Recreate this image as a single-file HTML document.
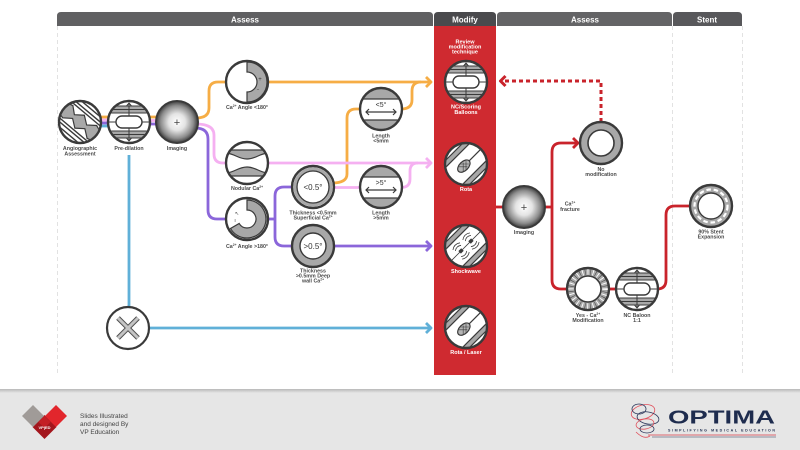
<!DOCTYPE html>
<html><head><meta charset="utf-8"><style>
html,body{margin:0;padding:0;width:800px;height:450px;overflow:hidden;background:#fff}
svg{display:block}
text{font-family:"Liberation Sans",sans-serif}
.l{font-size:5.3px;font-weight:bold;fill:#4a4a4a;text-anchor:middle}
.w{font-size:5.5px;font-weight:bold;fill:#fff;text-anchor:middle}
.h{font-size:8px;font-weight:bold;fill:#fff;text-anchor:middle}
</style></head><body>
<svg width="800" height="450" viewBox="0 0 800 450" xmlns="http://www.w3.org/2000/svg">
<defs>
<radialGradient id="sph" cx="0.5" cy="0.5" r="0.5">
<stop offset="0" stop-color="#ffffff"/><stop offset="0.4" stop-color="#e4e4e4"/><stop offset="0.78" stop-color="#8c8c8c"/><stop offset="1" stop-color="#3c3c3c"/>
</radialGradient>
<linearGradient id="fsh" x1="0" y1="0" x2="0" y2="1"><stop offset="0" stop-color="#b8b8b8"/><stop offset="1" stop-color="#e6e6e6"/></linearGradient>
<clipPath id="c0"><circle cx="0" cy="0" r="20"/></clipPath>
</defs>

<!-- separators -->
<g stroke="#e2e2e2" stroke-width="1" stroke-dasharray="4 3" fill="none">
<line x1="57.5" y1="26" x2="57.5" y2="376"/>
<line x1="672.5" y1="26" x2="672.5" y2="376"/>
<line x1="742.5" y1="26" x2="742.5" y2="376"/>
</g>

<!-- headers -->
<path d="M57 26 V16 Q57 12 61 12 H429 Q433 12 433 16 V26 Z" fill="#606062"/>
<path d="M434 26 V16 Q434 12 438 12 H492 Q496 12 496 16 V26 Z" fill="#4a4a4d"/>
<path d="M497 26 V16 Q497 12 501 12 H668 Q672 12 672 16 V26 Z" fill="#646466"/>
<path d="M673 26 V16 Q673 12 677 12 H738 Q742 12 742 16 V26 Z" fill="#58585b"/>
<text class="h" x="245" y="22.5">Assess</text>
<text class="h" x="465" y="22.5">Modify</text>
<text class="h" x="585" y="22.5">Assess</text>
<text class="h" x="707" y="22.5">Stent</text>

<!-- red column -->
<rect x="434" y="26" width="62" height="349" fill="#cf2a30"/>
<text class="w" x="465" y="43.5">Review</text>
<text class="w" x="465" y="48.5">modification</text>
<text class="w" x="465" y="53.5">technique</text>

<!-- connectors -->
<g fill="none" stroke-width="2.8" stroke-linecap="butt" stroke-linejoin="round">
<!-- stacked lines left -->
<line x1="100" y1="117" x2="109" y2="117" stroke="#f6ad45"/>
<line x1="100" y1="120" x2="109" y2="120" stroke="#f5b0f1"/>
<line x1="100" y1="123" x2="109" y2="123" stroke="#8b66da"/>
<line x1="100" y1="126" x2="109" y2="126" stroke="#60b0d8"/>
<line x1="149" y1="117" x2="157" y2="117" stroke="#f6ad45"/>
<line x1="149" y1="120.5" x2="157" y2="120.5" stroke="#f5b0f1"/>
<line x1="149" y1="124" x2="157" y2="124" stroke="#8b66da"/>
<!-- orange -->
<path d="M196 118 Q209 118 209 108 L209 91 Q209 82 218 82 L227 82" stroke="#f6ad45"/>
<path d="M267 82 L431 82" stroke="#f6ad45"/>
<path d="M426 77 L431 82 L426 87" stroke="#f6ad45"/>
<path d="M332 183 Q347 183 347 174 L347 118 Q347 109 356 109 L361 109" stroke="#f6ad45"/>
<path d="M401 109 Q412 109 412 100 L412 91 Q412 82 421 82" stroke="#f6ad45"/>
<!-- pink -->
<path d="M196 124 Q214 124 214 135 L214 154 Q214 163 223 163 L227 163" stroke="#f5b0f1"/>
<path d="M267 163 L431 163" stroke="#f5b0f1"/>
<path d="M426 158 L431 163 L426 168" stroke="#f5b0f1"/>
<path d="M333 187.5 L361 187.5" stroke="#f5b0f1"/>
<path d="M401 187.5 Q410 187.5 410 179 L410 171 Q410 163 418 163" stroke="#f5b0f1"/>
<!-- purple -->
<path d="M195 128 Q208 128 208 139 L208 210 Q208 219 217 219 L227 219" stroke="#8b66da"/>
<path d="M267 219 L275 219" stroke="#8b66da"/>
<path d="M293 187 L284 187 Q275 187 275 196 L275 237 Q275 246 284 246 L293 246" stroke="#8b66da"/>
<path d="M333 246 L431 246" stroke="#8b66da"/>
<path d="M426 241 L431 246 L426 251" stroke="#8b66da"/>
<!-- blue -->
<path d="M129 155 L129 308" stroke="#60b0d8"/>
<path d="M148 328 L431 328" stroke="#60b0d8"/>
<path d="M426 323 L431 328 L426 333" stroke="#60b0d8"/>
<!-- red -->
<path d="M496 207 L504 207" stroke="#c9232b"/>
<path d="M544 207 L552 207" stroke="#c9232b"/>
<path d="M578 143 L561 143 Q552 143 552 152 L552 280 Q552 289 561 289 L568 289" stroke="#c9232b"/>
<path d="M573 138 L578 143 L573 148" stroke="#c9232b"/>
<path d="M608 289 L617 289" stroke="#c9232b"/>
<path d="M657 289 Q666 289 666 280 L666 215 Q666 206 675 206 L691 206" stroke="#c9232b"/>
<path d="M601 122 L601 81 L503 81" stroke="#c9232b" stroke-width="3" stroke-dasharray="4 3" stroke-linejoin="miter"/>
<path d="M505.5 76 L500.5 81 L505.5 86" stroke="#c9232b" stroke-width="3"/>
</g>

<!-- Angiographic -->
<g transform="translate(80,122)">
<circle r="21" fill="#fff"/>
<g clip-path="url(#c0)"><g transform="rotate(40)">
<rect x="-26" y="-8" width="52" height="16" fill="#fff"/>
<polygon points="-26,-5 -16,-8 -9,-2 -1,-8 7,-2 15,-8 26,-4 26,5 16,8 8,2 0,8 -8,2 -16,8 -26,5" fill="#a8a8a8" stroke="#3a3a3a" stroke-width="1.2"/>
<g stroke="#3a3a3a" stroke-width="1.4"><line x1="-26" y1="-17" x2="26" y2="-17"/><line x1="-26" y1="-13" x2="26" y2="-13"/><line x1="-26" y1="-10" x2="26" y2="-10"/><line x1="-26" y1="10" x2="26" y2="10"/><line x1="-26" y1="13" x2="26" y2="13"/><line x1="-26" y1="17" x2="26" y2="17"/></g>
</g></g>
<circle r="21" fill="none" stroke="#3a3a3a" stroke-width="2.4"/>
</g>
<text class="l" x="80" y="150">Angiographic</text>
<text class="l" x="80" y="155.5">Assessment</text>

<!-- Pre-dilation -->
<g transform="translate(129,122)">
<circle r="21" fill="#fff"/>
<g clip-path="url(#c0)">
<rect x="-22" y="-16" width="44" height="7" fill="#a8a8a8"/><rect x="-22" y="9" width="44" height="7" fill="#a8a8a8"/>
<g stroke="#3a3a3a" stroke-width="1"><line x1="-22" y1="-16" x2="22" y2="-16"/><line x1="-22" y1="-12.5" x2="22" y2="-12.5"/><line x1="-22" y1="-9" x2="22" y2="-9"/><line x1="-22" y1="9" x2="22" y2="9"/><line x1="-22" y1="12.5" x2="22" y2="12.5"/><line x1="-22" y1="16" x2="22" y2="16"/>
<line x1="-22" y1="0" x2="-13" y2="0"/><line x1="13" y1="0" x2="22" y2="0"/>
<line x1="0" y1="-19" x2="0" y2="-6"/><line x1="0" y1="6" x2="0" y2="19"/>
<path d="M-2.5 -16 L0 -19 L2.5 -16 M-2.5 16 L0 19 L2.5 16" fill="none"/></g>
<rect x="-13" y="-6" width="26" height="12" rx="6" fill="#fff" stroke="#3a3a3a" stroke-width="1.4"/>
</g>
<circle r="21" fill="none" stroke="#3a3a3a" stroke-width="2.4"/>
</g>
<text class="l" x="129" y="150">Pre-dilation</text>

<!-- Imaging -->
<circle cx="177" cy="122" r="21" fill="url(#sph)" stroke="#3a3a3a" stroke-width="2"/>
<text x="177" y="126" font-size="11" fill="#444" text-anchor="middle">+</text>
<text class="l" x="177" y="150">Imaging</text>

<!-- Ca angle <180 -->
<g transform="translate(247,82)">
<circle r="21" fill="#fff"/>
<path d="M0 -20 A20 20 0 0 1 0 20 L0 10 A10 10 0 0 0 0 -10 Z" fill="#a8a8a8" stroke="#3a3a3a" stroke-width="1.2"/>
<text x="13" y="-1" font-size="6" fill="#333" text-anchor="middle">+</text>
<text x="11" y="9" font-size="6" fill="#333" text-anchor="middle">-</text>
<circle r="21" fill="none" stroke="#3a3a3a" stroke-width="2.4"/>
</g>
<text class="l" x="247" y="109">Ca<tspan dy="-2" font-size="3.3">2+</tspan><tspan dy="2"> Angle &lt;180°</tspan></text>

<!-- Nodular -->
<g transform="translate(247,163)">
<circle r="21" fill="#fff"/>
<g clip-path="url(#c0)">
<path d="M-22 -13 L22 -13 L22 -10 C13 -10 9 -4 0 -4 C-9 -4 -13 -10 -22 -10 Z" fill="#a8a8a8" stroke="#3a3a3a" stroke-width="1.2"/>
<path d="M-22 13 L22 13 L22 10 C13 10 9 4 0 4 C-9 4 -13 10 -22 10 Z" fill="#a8a8a8" stroke="#3a3a3a" stroke-width="1.2"/>
</g>
<circle r="21" fill="none" stroke="#3a3a3a" stroke-width="2.4"/>
</g>
<text class="l" x="247" y="190">Nodular Ca<tspan dy="-2" font-size="3.3">2+</tspan></text>

<!-- Ca angle >180 -->
<g transform="translate(247,219)">
<circle r="21" fill="#fff"/>
<path d="M0 -19 A19 19 0 1 1 -16.5 9.5 L-7.8 4.5 A9 9 0 1 0 0 -9 Z" fill="#a8a8a8" stroke="#3a3a3a" stroke-width="1.2"/>
<text x="-10" y="-4" font-size="5" fill="#333" text-anchor="middle">↖</text>
<text x="-12" y="3" font-size="5" fill="#333" text-anchor="middle">ı</text>
<circle r="21" fill="none" stroke="#3a3a3a" stroke-width="2.4"/>
</g>
<text class="l" x="247" y="248">Ca<tspan dy="-2" font-size="3.3">2+</tspan><tspan dy="2"> Angle &gt;180°</tspan></text>

<!-- <0.5 -->
<g transform="translate(313,187)">
<circle r="21" fill="#fff" stroke="#3a3a3a" stroke-width="2.4"/>
<circle r="18" fill="none" stroke="#a8a8a8" stroke-width="3.2"/>
<circle r="16" fill="#fff" stroke="#3a3a3a" stroke-width="1.3"/>
<text x="0" y="3" font-size="8" fill="#333" text-anchor="middle">&lt;0.5°</text>
</g>
<text class="l" x="313" y="214.5">Thickness &lt;0.5mm</text>
<text class="l" x="313" y="219.5">Superficial Ca<tspan dy="-2" font-size="3.3">2+</tspan></text>

<!-- >0.5 -->
<g transform="translate(313,246)">
<circle r="21" fill="#a8a8a8" stroke="#3a3a3a" stroke-width="2.4"/>
<circle r="13" fill="#fff" stroke="#3a3a3a" stroke-width="1.4"/>
<text x="0" y="3" font-size="8" fill="#333" text-anchor="middle">&gt;0.5°</text>
</g>
<text class="l" x="313" y="272.5">Thickness</text>
<text class="l" x="313" y="277.5">&gt;0.5mm Deep</text>
<text class="l" x="313" y="282.5">wall Ca<tspan dy="-2" font-size="3.3">2+</tspan></text>

<!-- Length <5 -->
<g transform="translate(381,109)">
<circle r="21" fill="#fff"/>
<g clip-path="url(#c0)">
<rect x="-22" y="-22" width="44" height="12" fill="#a8a8a8"/><rect x="-22" y="11" width="44" height="12" fill="#a8a8a8"/>
<g stroke="#3a3a3a" stroke-width="1.2" fill="none"><line x1="-22" y1="-10" x2="22" y2="-10"/><line x1="-22" y1="11" x2="22" y2="11"/>
<line x1="-15" y1="3" x2="15" y2="3"/><path d="M-12 0 L-15 3 L-12 6 M12 0 L15 3 L12 6"/></g>
</g>
<text x="0" y="-2" font-size="7" fill="#333" text-anchor="middle">&lt;5°</text>
<circle r="21" fill="none" stroke="#3a3a3a" stroke-width="2.4"/>
</g>
<text class="l" x="381" y="137.5">Length</text>
<text class="l" x="381" y="142.5">&lt;5mm</text>

<!-- Length >5 -->
<g transform="translate(381,187)">
<circle r="21" fill="#fff"/>
<g clip-path="url(#c0)">
<rect x="-22" y="-22" width="44" height="12" fill="#a8a8a8"/><rect x="-22" y="11" width="44" height="12" fill="#a8a8a8"/>
<g stroke="#3a3a3a" stroke-width="1.2" fill="none"><line x1="-22" y1="-10" x2="22" y2="-10"/><line x1="-22" y1="11" x2="22" y2="11"/>
<line x1="-15" y1="3" x2="15" y2="3"/><path d="M-12 0 L-15 3 L-12 6 M12 0 L15 3 L12 6"/></g>
</g>
<text x="0" y="-2" font-size="7" fill="#333" text-anchor="middle">&gt;5°</text>
<circle r="21" fill="none" stroke="#3a3a3a" stroke-width="2.4"/>
</g>
<text class="l" x="381" y="214.5">Length</text>
<text class="l" x="381" y="219.5">&gt;5mm</text>

<!-- X -->
<g transform="translate(128,328)">
<circle r="21" fill="#fff" stroke="#3a3a3a" stroke-width="2.2"/>
<path d="M-10 -10 L10 10 M10 -10 L-10 10" stroke="#505050" stroke-width="5"/>
<path d="M-10 -10 L10 10 M10 -10 L-10 10" stroke="#c4c4c4" stroke-width="3"/>
</g>

<!-- NC/Scoring -->
<g transform="translate(466,82)">
<circle r="21" fill="#fff"/>
<g clip-path="url(#c0)">
<rect x="-22" y="-16" width="44" height="7" fill="#a8a8a8"/><rect x="-22" y="9" width="44" height="7" fill="#a8a8a8"/>
<g stroke="#3a3a3a" stroke-width="1"><line x1="-22" y1="-16" x2="22" y2="-16"/><line x1="-22" y1="-12.5" x2="22" y2="-12.5"/><line x1="-22" y1="-9" x2="22" y2="-9"/><line x1="-22" y1="9" x2="22" y2="9"/><line x1="-22" y1="12.5" x2="22" y2="12.5"/><line x1="-22" y1="16" x2="22" y2="16"/>
<line x1="-22" y1="0" x2="-13" y2="0"/><line x1="13" y1="0" x2="22" y2="0"/>
<line x1="0" y1="-19" x2="0" y2="-6"/><line x1="0" y1="6" x2="0" y2="19"/>
<path d="M-2.5 -16 L0 -19 L2.5 -16 M-2.5 16 L0 19 L2.5 16" fill="none"/></g>
<rect x="-13" y="-6" width="26" height="12" rx="6" fill="#fff" stroke="#3a3a3a" stroke-width="1.4"/>
</g>
<circle r="21" fill="none" stroke="#3a3a3a" stroke-width="2.4"/>
</g>
<text class="w" x="466" y="108.5">NC/Scoring</text>
<text class="w" x="466" y="114">Balloons</text>

<!-- Rota -->
<g transform="translate(466,164)">
<circle r="21" fill="#fff"/>
<g clip-path="url(#c0)"><g transform="rotate(-45)">
<rect x="-25" y="-17" width="50" height="5" fill="#a8a8a8"/><rect x="-25" y="12" width="50" height="5" fill="#a8a8a8"/>
<g stroke="#3a3a3a" stroke-width="1.2"><line x1="-25" y1="-17" x2="25" y2="-17"/><line x1="-25" y1="-12" x2="25" y2="-12"/><line x1="-25" y1="12" x2="25" y2="12"/><line x1="-25" y1="17" x2="25" y2="17"/>
<line x1="4" y1="0" x2="25" y2="0"/></g>
<ellipse cx="-3" cy="0" rx="7.5" ry="4.5" fill="#b5b5b5" stroke="#3a3a3a" stroke-width="1.2"/>
<g stroke="#3a3a3a" stroke-width="0.6"><line x1="-7" y1="-3" x2="-1" y2="3"/><line x1="-4" y1="-4" x2="2" y2="2"/><line x1="-7" y1="3" x2="-1" y2="-3"/><line x1="-4" y1="4" x2="2" y2="-2"/></g>
</g></g>
<circle r="21" fill="none" stroke="#3a3a3a" stroke-width="2.4"/>
</g>
<text class="w" x="466" y="191">Rota</text>

<!-- Shockwave -->
<g transform="translate(466,246)">
<circle r="21" fill="#fff"/>
<g clip-path="url(#c0)"><g transform="rotate(-45)">
<rect x="-25" y="-17" width="50" height="5" fill="#a8a8a8"/><rect x="-25" y="12" width="50" height="5" fill="#a8a8a8"/>
<g stroke="#3a3a3a" stroke-width="1.2"><line x1="-25" y1="-17" x2="25" y2="-17"/><line x1="-25" y1="-12" x2="25" y2="-12"/><line x1="-25" y1="12" x2="25" y2="12"/><line x1="-25" y1="17" x2="25" y2="17"/>
<line x1="-25" y1="0" x2="25" y2="0" stroke-width="0.8"/></g>
<rect x="-9" y="-1.8" width="4" height="3.6" fill="#3a3a3a"/><rect x="5" y="-1.8" width="4" height="3.6" fill="#3a3a3a"/>
<g fill="none" stroke="#3a3a3a" stroke-width="0.8"><path d="M-11 -4 Q-7 -7 -3 -4 M-12 -6.5 Q-7 -10 -2 -6.5 M-11 4 Q-7 7 -3 4 M-12 6.5 Q-7 10 -2 6.5 M3 -4 Q7 -7 11 -4 M2 -6.5 Q7 -10 12 -6.5 M3 4 Q7 7 11 4 M2 6.5 Q7 10 12 6.5"/></g>
</g></g>
<circle r="21" fill="none" stroke="#3a3a3a" stroke-width="2.4"/>
</g>
<text class="w" x="466" y="273">Shockwave</text>

<!-- Rota / Laser -->
<g transform="translate(466,327)">
<circle r="21" fill="#fff"/>
<g clip-path="url(#c0)"><g transform="rotate(-45)">
<rect x="-25" y="-17" width="50" height="5" fill="#a8a8a8"/><rect x="-25" y="12" width="50" height="5" fill="#a8a8a8"/>
<g stroke="#3a3a3a" stroke-width="1.2"><line x1="-25" y1="-17" x2="25" y2="-17"/><line x1="-25" y1="-12" x2="25" y2="-12"/><line x1="-25" y1="12" x2="25" y2="12"/><line x1="-25" y1="17" x2="25" y2="17"/>
<line x1="4" y1="0" x2="25" y2="0"/></g>
<ellipse cx="-3" cy="0" rx="7.5" ry="4.5" fill="#b5b5b5" stroke="#3a3a3a" stroke-width="1.2"/>
<g stroke="#3a3a3a" stroke-width="0.6"><line x1="-7" y1="-3" x2="-1" y2="3"/><line x1="-4" y1="-4" x2="2" y2="2"/><line x1="-7" y1="3" x2="-1" y2="-3"/><line x1="-4" y1="4" x2="2" y2="-2"/></g>
</g></g>
<circle r="21" fill="none" stroke="#3a3a3a" stroke-width="2.4"/>
</g>
<text class="w" x="466" y="354">Rota / Laser</text>

<!-- Imaging 2 -->
<circle cx="524" cy="207" r="21" fill="url(#sph)" stroke="#3a3a3a" stroke-width="2"/>
<text x="524" y="211" font-size="11" fill="#444" text-anchor="middle">+</text>
<text class="l" x="524" y="234">Imaging</text>
<text class="l" x="570" y="205.5">Ca<tspan dy="-2" font-size="3.3">2+</tspan></text>
<text class="l" x="570" y="211">fracture</text>

<!-- No modification -->
<g transform="translate(601,143)">
<circle r="21" fill="#a8a8a8" stroke="#3a3a3a" stroke-width="2.4"/>
<circle r="13" fill="#fff" stroke="#3a3a3a" stroke-width="1.6"/>
</g>
<text class="l" x="601" y="171">No</text>
<text class="l" x="601" y="176">modification</text>

<!-- Yes Ca modification -->
<g transform="translate(588,289)">
<circle r="21" fill="#a8a8a8" stroke="#3a3a3a" stroke-width="2.4"/>
<circle r="17" fill="none" stroke="#fff" stroke-width="5.5" stroke-dasharray="0.9 4.4"/>
<circle r="17" fill="none" stroke="#3a3a3a" stroke-width="5.5" stroke-dasharray="0.5 4.8" stroke-dashoffset="2.5"/>
<circle r="13" fill="#fff" stroke="#3a3a3a" stroke-width="1.6"/>
</g>
<text class="l" x="588" y="317">Yes - Ca<tspan dy="-2" font-size="3.3">2+</tspan></text>
<text class="l" x="588" y="322">Modification</text>

<!-- NC Baloon -->
<g transform="translate(637,289)">
<circle r="21" fill="#fff"/>
<g clip-path="url(#c0)">
<rect x="-22" y="-16" width="44" height="7" fill="#a8a8a8"/><rect x="-22" y="9" width="44" height="7" fill="#a8a8a8"/>
<g stroke="#3a3a3a" stroke-width="1"><line x1="-22" y1="-16" x2="22" y2="-16"/><line x1="-22" y1="-12.5" x2="22" y2="-12.5"/><line x1="-22" y1="-9" x2="22" y2="-9"/><line x1="-22" y1="9" x2="22" y2="9"/><line x1="-22" y1="12.5" x2="22" y2="12.5"/><line x1="-22" y1="16" x2="22" y2="16"/>
<line x1="-22" y1="0" x2="-13" y2="0"/><line x1="13" y1="0" x2="22" y2="0"/>
<line x1="0" y1="-19" x2="0" y2="-6"/><line x1="0" y1="6" x2="0" y2="19"/>
<path d="M-2.5 -16 L0 -19 L2.5 -16 M-2.5 16 L0 19 L2.5 16" fill="none"/></g>
<rect x="-13" y="-6" width="26" height="12" rx="6" fill="#fff" stroke="#3a3a3a" stroke-width="1.4"/>
</g>
<circle r="21" fill="none" stroke="#3a3a3a" stroke-width="2.4"/>
</g>
<text class="l" x="637" y="317">NC Baloon</text>
<text class="l" x="637" y="322">1:1</text>

<!-- 90% Stent -->
<g transform="translate(711,206)">
<circle r="21" fill="#a8a8a8" stroke="#3a3a3a" stroke-width="2.4"/>
<circle r="16.5" fill="none" stroke="#fff" stroke-width="2.2" stroke-dasharray="4.5 2.8"/>
<circle r="13" fill="#fff" stroke="#3a3a3a" stroke-width="1.4"/>
</g>
<text class="l" x="711" y="233.5">90% Stent</text>
<text class="l" x="711" y="238.5">Expansion</text>

<!-- footer -->
<rect x="0" y="390" width="800" height="60" fill="#e6e6e6"/>
<rect x="0" y="389" width="800" height="4" fill="url(#fsh)"/>
<polygon points="44.5,415 56.5,427 44.5,439 32.5,427" fill="#a3161d"/>
<polygon points="33,405 44,416 33,427 22,416" fill="#a09b98"/>
<polygon points="56,405 67,416 56,427 45,416" fill="#e2262c"/>
<polygon points="44.5,416 50.5,422 44.5,428 38.5,422" fill="#c31f25"/>
<text x="44.5" y="429" font-size="4" font-weight="bold" fill="#fff" text-anchor="middle">VP|ED</text>
<text x="80" y="418" font-size="6.5" fill="#444">Slides Illustrated</text>
<text x="80" y="426" font-size="6.5" fill="#444">and designed By</text>
<text x="80" y="434" font-size="6.5" fill="#444">VP Education</text>

<!-- OPTIMA -->
<g fill="none" stroke-width="0.8">
<ellipse cx="643" cy="412" rx="12" ry="7" stroke="#e0505c" transform="rotate(-15 643 412)"/>
<ellipse cx="648" cy="418" rx="11" ry="6" stroke="#2a3458" transform="rotate(10 648 418)"/>
<ellipse cx="645" cy="424" rx="9" ry="5" stroke="#e0505c" transform="rotate(-10 645 424)"/>
<ellipse cx="647" cy="429" rx="7" ry="4" stroke="#2a3458"/>
<ellipse cx="639" cy="409" rx="7" ry="5" stroke="#2a3458"/>
<path d="M636 432 Q644 440 650 436" stroke="#e0505c"/>
</g>
<text x="668" y="423.5" font-size="18" font-weight="bold" fill="#1e2c4e" textLength="107" lengthAdjust="spacingAndGlyphs">OPTIMA</text>
<text x="668" y="431.5" font-size="3.6" font-weight="bold" fill="#1e2c4e" textLength="107" lengthAdjust="spacing">SIMPLIFYING MEDICAL EDUCATION</text>
<line x1="648" y1="435" x2="776" y2="435" stroke="#d83a44" stroke-width="0.8"/>
<line x1="652" y1="437" x2="776" y2="437" stroke="#2a3458" stroke-width="0.5"/>
</svg>
</body></html>
